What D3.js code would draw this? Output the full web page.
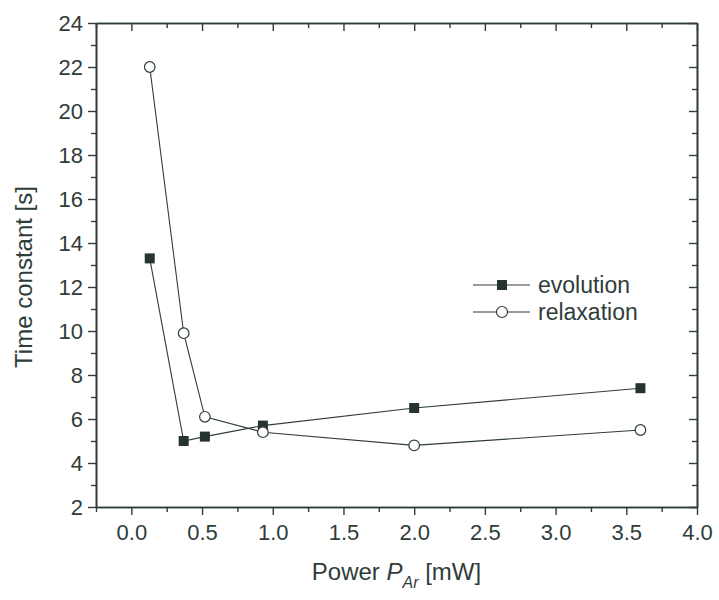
<!DOCTYPE html>
<html>
<head>
<meta charset="utf-8">
<script src="https://cdn.jsdelivr.net/npm/d3@7"></script>
<style>
  html, body { margin: 0; padding: 0; background: #fff; }
  svg { display: block; }
  text { font-family: "Liberation Sans", Arial, sans-serif; fill: #2f3d3a; }
</style>
</head>
<body>
<svg id="chart" width="719" height="600"></svg>
<script>
// Laser power (mW) and measured time constants (s)
const power = [0.13, 0.37, 0.52, 0.93, 2.0, 3.6];
const evolution = [13.3, 5.0, 5.2, 5.7, 6.5, 7.4];
const relaxation = [22.0, 9.9, 6.1, 5.4, 4.8, 5.5];
const xTicks = [0.0, 0.5, 1.0, 1.5, 2.0, 2.5, 3.0, 3.5, 4.0];
const yTicks = [2, 4, 6, 8, 10, 12, 14, 16, 18, 20, 22, 24];
const seriesNames = ["evolution", "relaxation"];

const ink = "#2f3d3a";
const svg = d3.select("#chart");
const plot = { left: 96, right: 697, top: 23, bottom: 507 };

const x = d3.scaleLinear().domain([-0.25, 4.0]).range([plot.left, plot.right]);
const y = d3.scaleLinear().domain([2, 24]).range([plot.bottom, plot.top]);

const minorX = d3.range(-0.25, 4.001, 0.25).filter(v => !xTicks.some(t => Math.abs(t - v) < 1e-6));
const minorY = d3.range(3, 24, 2);

function styleAxis(g) {
  g.select(".domain").attr("stroke", ink).attr("stroke-width", 1.6);
  g.selectAll(".tick line").attr("stroke", ink).attr("stroke-width", 1.4);
  g.selectAll(".tick text").attr("font-size", 22).style("fill", ink)
    .attr("font-family", "'Liberation Sans', Arial, sans-serif");
}

// bottom axis: outward major + minor ticks
svg.append("g").attr("transform", `translate(0,${plot.bottom})`)
  .call(d3.axisBottom(x).tickValues(xTicks).tickFormat(d3.format(".1f")).tickSize(8).tickSizeOuter(0).tickPadding(9))
  .call(styleAxis);
svg.append("g").attr("transform", `translate(0,${plot.bottom})`)
  .call(d3.axisBottom(x).tickValues(minorX).tickFormat("").tickSize(5).tickSizeOuter(0))
  .call(styleAxis);

// left axis
svg.append("g").attr("transform", `translate(${plot.left},0)`)
  .call(d3.axisLeft(y).tickValues(yTicks).tickSize(8).tickSizeOuter(0).tickPadding(5))
  .call(styleAxis);
svg.append("g").attr("transform", `translate(${plot.left},0)`)
  .call(d3.axisLeft(y).tickValues(minorY).tickFormat("").tickSize(5).tickSizeOuter(0))
  .call(styleAxis);

// top axis: inward ticks, no labels
svg.append("g").attr("transform", `translate(0,${plot.top})`)
  .call(d3.axisTop(x).tickValues(xTicks).tickFormat("").tickSize(-8).tickSizeOuter(0))
  .call(styleAxis);
svg.append("g").attr("transform", `translate(0,${plot.top})`)
  .call(d3.axisTop(x).tickValues(minorX).tickFormat("").tickSize(-5).tickSizeOuter(0))
  .call(styleAxis);

// right axis: inward ticks, no labels
svg.append("g").attr("transform", `translate(${plot.right},0)`)
  .call(d3.axisRight(y).tickValues(yTicks).tickFormat("").tickSize(-8).tickSizeOuter(0))
  .call(styleAxis);
svg.append("g").attr("transform", `translate(${plot.right},0)`)
  .call(d3.axisRight(y).tickValues(minorY).tickFormat("").tickSize(-5).tickSizeOuter(0))
  .call(styleAxis);

// axis titles
svg.append("text")
  .attr("transform", "translate(32,277) rotate(-90)")
  .attr("text-anchor", "middle").attr("font-size", 24)
  .text("Time constant [s]");

const xl = svg.append("text")
  .attr("x", (plot.left + plot.right) / 2).attr("y", 580)
  .attr("text-anchor", "middle").attr("font-size", 24);
xl.append("tspan").text("Power ");
xl.append("tspan").attr("font-style", "italic").text("P");
xl.append("tspan").attr("font-style", "italic").attr("font-size", 16).attr("dy", 8).text("Ar");
xl.append("tspan").attr("dy", -8).text(" [mW]");

// data series
const line = d3.line().x(d => x(d[0])).y(d => y(d[1]));
const evoPts = power.map((p, i) => [p, evolution[i]]);
const relPts = power.map((p, i) => [p, relaxation[i]]);

svg.append("path").datum(evoPts).attr("d", line)
  .attr("fill", "none").attr("stroke", ink).attr("stroke-width", 1.1);
svg.append("path").datum(relPts).attr("d", line)
  .attr("fill", "none").attr("stroke", ink).attr("stroke-width", 1.1);

const sq = 10;
svg.selectAll("rect.evo").data(evoPts).join("rect").attr("class", "evo")
  .attr("x", d => x(d[0]) - sq / 2).attr("y", d => y(d[1]) - sq / 2)
  .attr("width", sq).attr("height", sq).attr("fill", "#263330");

svg.selectAll("circle.rel").data(relPts).join("circle").attr("class", "rel")
  .attr("cx", d => x(d[0])).attr("cy", d => y(d[1])).attr("r", 5.3)
  .attr("fill", "#fff").attr("stroke", ink).attr("stroke-width", 1.2);

// legend
const lg = svg.append("g").attr("transform", "translate(473,285)");
seriesNames.forEach((name, i) => {
  const row = lg.append("g").attr("transform", `translate(0,${i * 27})`);
  row.append("line").attr("x1", 0).attr("x2", 57).attr("y1", 0).attr("y2", 0)
    .attr("stroke", ink).attr("stroke-width", 1.1);
  if (i === 0) {
    row.append("rect").attr("x", 29 - sq / 2).attr("y", -sq / 2).attr("width", sq).attr("height", sq)
      .attr("fill", "#263330");
  } else {
    row.append("circle").attr("cx", 29).attr("cy", 0).attr("r", 5.5)
      .attr("fill", "#fff").attr("stroke", ink).attr("stroke-width", 1.2);
  }
  row.append("text").attr("x", 65).attr("y", 8).attr("font-size", 23).text(name);
});
</script>
</body>
</html>
